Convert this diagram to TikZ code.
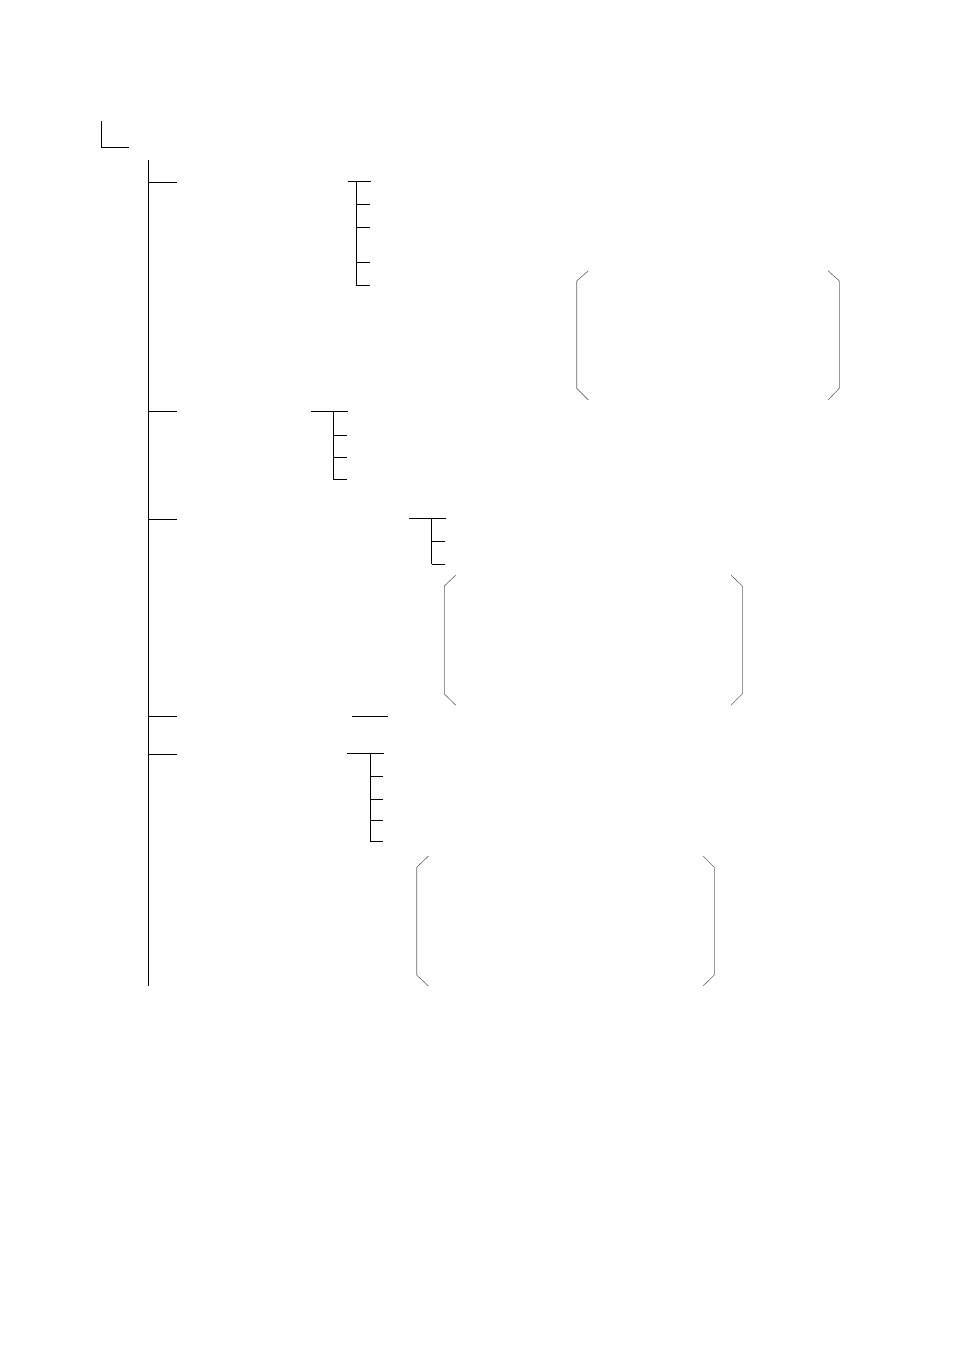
\documentclass[tikz,border=0pt]{standalone}
\begin{document}
\begin{tikzpicture}[x=1pt,y=-1pt,
  treeline/.style={line width=0.9pt,black},
  bracketline/.style={line width=0.6pt,black!60}]
\useasboundingbox (0,0) rectangle (954,1350);
% top corner
\coordinate (c1) at (101.7,121);
\coordinate (c2) at (101.7,147.3);
\coordinate (c3) at (129.3,147.3);
\draw[treeline] (c1) -- (c2) -- (c3);
% main trunk
\coordinate (mt) at (148.5,160);
\coordinate (mb) at (148.5,985.7);
\draw[treeline] (mt) -- (mb);
% branches from trunk
\foreach \y/\n in {182/1,411/2,519/3,716.7/4,754/5}{
  \coordinate (b\n) at (148.5,\y);
  \coordinate (be\n) at (176.7,\y);
  \draw[treeline] (b\n) -- (be\n);
}
% subtree 1
\coordinate (s1a) at (348.3,181.5);
\coordinate (s1b) at (371,181.5);
\coordinate (s1t) at (356.7,181.5);
\coordinate (s1e) at (356.7,285.7);
\draw[treeline] (s1a) -- (s1b);
\draw[treeline] (s1t) -- (s1e);
\foreach \y in {204.3,227.3,262.3,285.7}{
  \draw[treeline] (356.7,\y) -- (370,\y);
}
% subtree 2
\coordinate (s2a) at (311,411);
\coordinate (s2b) at (347.7,411);
\coordinate (s2t) at (333.3,411);
\coordinate (s2e) at (333.3,479.3);
\draw[treeline] (s2a) -- (s2b);
\draw[treeline] (s2t) -- (s2e);
\foreach \y in {435,457.3,479.3}{
  \draw[treeline] (333.3,\y) -- (346.7,\y);
}
% subtree 3
\coordinate (s3a) at (409,518);
\coordinate (s3b) at (445.7,518);
\coordinate (s3t) at (431.7,518);
\coordinate (s3e) at (431.7,564);
\draw[treeline] (s3a) -- (s3b);
\draw[treeline] (s3t) -- (s3e);
\foreach \y in {541.3,564}{
  \draw[treeline] (431.7,\y) -- (444.7,\y);
}
% line 4
\coordinate (s4a) at (352.3,716);
\coordinate (s4b) at (387.7,716);
\draw[treeline] (s4a) -- (s4b);
% subtree 5
\coordinate (s5a) at (347.3,753.3);
\coordinate (s5b) at (384,753.3);
\coordinate (s5t) at (370,753.3);
\coordinate (s5e) at (370,841.3);
\draw[treeline] (s5a) -- (s5b);
\draw[treeline] (s5t) -- (s5e);
\foreach \y in {776.3,799.3,820.3,841.3}{
  \draw[treeline] (370,\y) -- (382.7,\y);
}
% brackets
\newcommand{\mybrackets}[6]{%
  \draw[bracketline] (#1+11.7,#3) -- (#1,#4) -- (#1,#5) -- (#1+11.7,#6);
  \draw[bracketline] (#2-11.3,#3) -- (#2,#4) -- (#2,#5) -- (#2-11.3,#6);
}
\mybrackets{576.7}{839.3}{270.7}{281}{388.3}{400}
\mybrackets{444.3}{742.3}{575}{586}{694}{705.3}
\mybrackets{416.7}{714.3}{856}{867.3}{975}{986}
\end{tikzpicture}
\end{document}
